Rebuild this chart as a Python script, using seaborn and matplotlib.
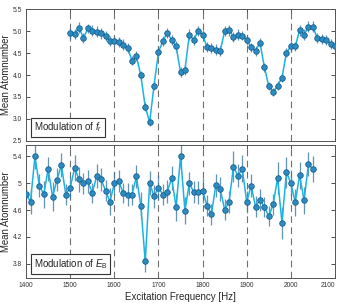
import seaborn as sns
import pandas as pd
import matplotlib.pyplot as plt
import numpy as np

# top panel: modulation of f_r (10 Hz steps, 1500..2100)
freq_fr = list(range(1500, 2101, 10))
atom_fr = [4.95, 4.93, 5.08, 4.84, 5.06, 5.01, 4.99, 4.95, 4.89, 4.77,
           4.77, 4.75, 4.69, 4.62, 4.33, 4.43, 3.99, 3.28, 2.93, 3.76,
           4.53, 4.77, 4.96, 4.80, 4.65, 4.07, 4.12, 4.92, 4.80, 5.00,
           4.92, 4.64, 4.62, 4.58, 4.55, 5.00, 5.02, 4.87, 4.92, 4.90,
           4.80, 4.63, 4.55, 4.74, 4.18, 3.75, 3.61, 3.76, 3.94, 4.51,
           4.65, 4.65, 5.02, 4.92, 5.10, 5.10, 4.84, 4.82, 4.80, 4.71,
           4.65]
err_fr = [0.12, 0.11, 0.13, 0.12, 0.11, 0.12, 0.13, 0.12, 0.11, 0.12,
          0.12, 0.11, 0.12, 0.12, 0.11, 0.12, 0.10, 0.10, 0.09, 0.10,
          0.11, 0.12, 0.12, 0.11, 0.12, 0.11, 0.11, 0.12, 0.12, 0.12,
          0.11, 0.12, 0.11, 0.12, 0.12, 0.12, 0.12, 0.11, 0.12, 0.11,
          0.12, 0.11, 0.12, 0.11, 0.10, 0.10, 0.09, 0.10, 0.10, 0.11,
          0.12, 0.11, 0.12, 0.12, 0.13, 0.12, 0.12, 0.11, 0.12, 0.11,
          0.12]

# bottom panel: modulation of E_B (10 Hz steps, 1400..2050)
freq_eb = list(range(1400, 2051, 10))
atom_eb = [4.835, 4.725, 5.40, 4.965, 4.835, 5.21, 4.80, 5.05, 5.27, 4.83,
           4.935, 5.225, 5.055, 4.995, 5.025, 4.855, 5.105, 5.055, 4.89, 4.725,
           4.995, 5.03, 4.855, 4.825, 4.83, 5.10, 4.665, 3.835, 5.00, 4.805,
           4.935, 4.83, 4.875, 5.075, 4.64, 5.40, 4.59, 5.00, 4.865, 4.865,
           4.89, 4.665, 4.535, 4.97, 4.915, 4.605, 4.72, 5.245, 5.11, 5.215,
           4.72, 4.965, 4.65, 4.75, 4.65, 4.505, 4.685, 5.075, 4.41, 5.165,
           5.00, 4.715, 5.12, 4.745, 5.285, 5.21]
err_eb = [0.16, 0.18, 0.19, 0.17, 0.20, 0.18, 0.21, 0.17, 0.18, 0.16,
          0.17, 0.19, 0.18, 0.16, 0.17, 0.15, 0.18, 0.17, 0.16, 0.20,
          0.17, 0.16, 0.15, 0.17, 0.16, 0.17, 0.20, 0.16, 0.18, 0.17,
          0.18, 0.16, 0.17, 0.18, 0.20, 0.19, 0.20, 0.17, 0.16, 0.17,
          0.18, 0.16, 0.16, 0.17, 0.18, 0.16, 0.17, 0.23, 0.17, 0.20,
          0.17, 0.17, 0.16, 0.17, 0.15, 0.15, 0.16, 0.24, 0.24, 0.23,
          0.19, 0.20, 0.20, 0.20, 0.18, 0.20]

dash_lines = [1500, 1600, 1700, 1800, 1900, 2000]

sns.set_style('ticks')
plt.rcParams['font.family'] = ['Liberation Sans', 'DejaVu Sans']
plt.rcParams['mathtext.fontset'] = 'custom'
plt.rcParams['mathtext.it'] = 'Liberation Sans:italic'
plt.rcParams['mathtext.rm'] = 'Liberation Sans'

line_col = '#1cb2e4'
mark_col = '#2b8cc2'
edge_col = '#1b5f8e'
err_col = '#3a7aa6'

fig = plt.figure(figsize=(3.39, 3.05), dpi=100)
ax1 = fig.add_axes([0.077, 0.538, 0.911, 0.432])
ax2 = fig.add_axes([0.077, 0.089, 0.911, 0.436])

panels = [(ax1, freq_fr, atom_fr, err_fr, 'Modulation of $f_r$'),
          (ax2, freq_eb, atom_eb, err_eb, 'Modulation of $E_\\mathrm{B}$')]

for ax, fx, fy, fe, label in panels:
    for xv in dash_lines:
        ax.axvline(xv, color='#707070', lw=0.8, ls=(0, (6, 4)), zorder=1)
    ax.errorbar(fx, fy, yerr=fe, fmt='none', ecolor=err_col, elinewidth=0.9,
                alpha=0.8, zorder=2)
    df = pd.DataFrame({'f': fx, 'n': fy})
    sns.lineplot(data=df, x='f', y='n', ax=ax, color=line_col, lw=1.1,
                 marker='o', markersize=4.0, markerfacecolor=mark_col,
                 markeredgecolor=edge_col, markeredgewidth=0.6, zorder=3,
                 clip_on=True)
    ax.set_xlim(1400, 2100)
    ax.set_xticks(range(1400, 2101, 100))
    ax.tick_params(direction='in', top=True, right=True, length=3, width=0.6,
                   labelsize=4.8, colors='#333333', pad=3)
    for s in ax.spines.values():
        s.set_linewidth(0.7)
        s.set_color('#555555')
    ax.set_ylabel('Mean Atomnumber', fontsize=6.9, labelpad=0.8)
    ax.set_xlabel('')
    ax.text(0.024, 0.05, label, transform=ax.transAxes, fontsize=7,
            va='bottom', ha='left', zorder=5,
            bbox=dict(boxstyle='square,pad=0.3', facecolor='white',
                      edgecolor='#333333', linewidth=0.8))

ax1.set_ylim(2.5, 5.5)
ax1.set_yticks([2.5, 3.0, 3.5, 4.0, 4.5, 5.0, 5.5])
ax1.set_yticklabels(['2.5', '3.0', '3.5', '4.0', '4.5', '5.0', '5.5'])
ax1.set_xticklabels([])

ax2.set_ylim(3.59, 5.57)
ax2.set_yticks([3.8, 4.2, 4.6, 5.0, 5.4])
ax2.set_yticklabels(['3.8', '4.2', '4.6', '5', '5.4'])
ax2.set_xlabel('Excitation Frequency [Hz]', fontsize=7, labelpad=2)
ax2.get_xticklabels()[-1].set_horizontalalignment('right')

fig.savefig('out.png', dpi=100)
